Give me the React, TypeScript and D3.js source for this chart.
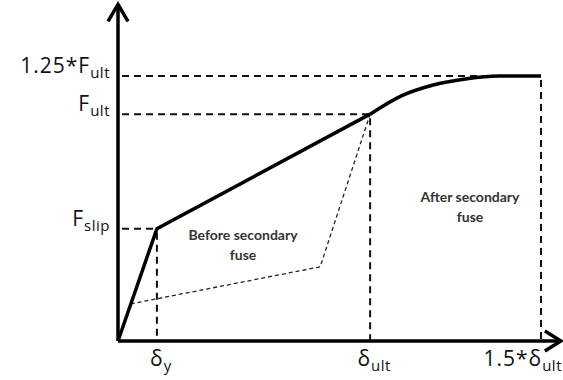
import React from "react";
import * as d3 from "d3";

// Schematic values (normalized: x -> 1.5*δult = 1, y -> 1.25*Fult = 1)
const xTickNames = ["δy", "δult", "1.5*δult"];
const xTickValues = [0.092, 0.596, 1.0];
const yTickNames = ["Fslip", "Fult", "1.25*Fult"];
const yTickValues = [0.424, 0.856, 1.0];

const mainLineX = [0, 0.092, 0.596];
const mainLineY = [0, 0.424, 0.856];
const curveX = [0.596, 0.67, 0.745, 0.825, 0.9, 1.0];
const curveY = [0.856, 0.925, 0.966, 0.99, 1.0, 1.0];
const dottedX = [0.03, 0.478, 0.596];
const dottedY = [0.14, 0.28, 0.856];

const W = 563;
const H = 380;

export default function App() {
  const x = d3.scaleLinear().domain([0, 1]).range([118, 541]);
  const y = d3.scaleLinear().domain([0, 1]).range([341, 76]);
  const line = d3.line<[number, number]>().x((d) => x(d[0])).y((d) => y(d[1]));
  const curve = d3
    .line<[number, number]>()
    .x((d) => x(d[0]))
    .y((d) => y(d[1]))
    .curve(d3.curveMonotoneX);

  const mainPts = mainLineX.map((v, i) => [v, mainLineY[i]] as [number, number]);
  const curvePts = curveX.map((v, i) => [v, curveY[i]] as [number, number]);
  const dotPts = dottedX.map((v, i) => [v, dottedY[i]] as [number, number]);

  const x0 = x(0);
  const y0 = y(0);
  const font = "'Open Sans', Lato, sans-serif";
  const font2 = "Lato, 'Open Sans', sans-serif";

  const sub = (name: string) => {
    if (name.startsWith("1.25*F")) return ["1.25*F", name.slice(6)];
    if (name.startsWith("1.5*δ")) return ["1.5*δ", name.slice(5)];
    return [name[0], name.slice(1)];
  };

  return (
    <svg
      width={W}
      height={H}
      style={{ position: "absolute", left: 0, top: 0, background: "#fff" }}
    >
      {yTickValues.map((v, i) => (
        <line
          key={"hy" + i}
          x1={x0 + 4}
          x2={x(xTickValues[i])}
          y1={y(v)}
          y2={y(v)}
          stroke="#111"
          strokeWidth={2}
          strokeDasharray="7,5"
        />
      ))}
      {xTickValues.map((v, i) => (
        <line
          key={"vx" + i}
          x1={x(v)}
          x2={x(v)}
          y1={y(yTickValues[i]) + 4}
          y2={y0}
          stroke="#111"
          strokeWidth={2}
          strokeDasharray="7,5"
        />
      ))}
      <path
        d={line(dotPts) || ""}
        fill="none"
        stroke="#222"
        strokeWidth={1.3}
        strokeDasharray="4,3"
      />
      <line x1={x0} x2={x0} y1={y0} y2={y(1.27)} stroke="#000" strokeWidth={3.5} />
      <line x1={x0} x2={x(1.047)} y1={y0} y2={y0} stroke="#000" strokeWidth={3.5} />
      <path
        d={`M${x0 - 10},${y(1.27) + 17}L${x0},${y(1.27)}L${x0 + 10},${y(1.27) + 17}`}
        fill="none"
        stroke="#000"
        strokeWidth={3.5}
      />
      <path
        d={`M${x(1.047) - 16},${y0 - 10}L${x(1.047)},${y0}L${x(1.047) - 16},${y0 + 10}`}
        fill="none"
        stroke="#000"
        strokeWidth={3.5}
      />
      <path
        d={line(mainPts) || ""}
        fill="none"
        stroke="#000"
        strokeWidth={3.5}
        strokeLinejoin="miter"
      />
      <path d={curve(curvePts) || ""} fill="none" stroke="#000" strokeWidth={3.5} />

      {yTickNames.map((n, i) => {
        const [a, b] = sub(n);
        return (
          <text
            key={"yl" + i}
            x={x0 - 8}
            y={y(yTickValues[i]) - 3}
            textAnchor="end"
            fontFamily={font}
            fontSize={21}
            letterSpacing={1}
            fill="#111"
          >
            {a}
            <tspan fontSize={15} dy={5} letterSpacing={0.5}>
              {b}
            </tspan>
          </text>
        );
      })}
      {xTickNames.map((n, i) => {
        const [a, b] = sub(n);
        return (
          <text
            key={"xl" + i}
            x={i === 2 ? 562 : x(xTickValues[i]) + 4}
            y={y0 + 25}
            textAnchor={i === 2 ? "end" : "middle"}
            fontFamily={font}
            fontSize={21}
            letterSpacing={1}
            fill="#111"
          >
            {a}
            <tspan fontSize={15} dy={5} letterSpacing={0.5}>
              {b}
            </tspan>
          </text>
        );
      })}

      <text x={243} y={240} textAnchor="middle" fontFamily={font2} fontWeight="bold" fontSize={14} fill="#333">
        Before secondary
      </text>
      <text x={243} y={260} textAnchor="middle" fontFamily={font2} fontWeight="bold" fontSize={14} fill="#333">
        fuse
      </text>
      <text x={470} y={202} textAnchor="middle" fontFamily={font2} fontWeight="bold" fontSize={14} fill="#333">
        After secondary
      </text>
      <text x={470} y={222} textAnchor="middle" fontFamily={font2} fontWeight="bold" fontSize={14} fill="#333">
        fuse
      </text>
    </svg>
  );
}
